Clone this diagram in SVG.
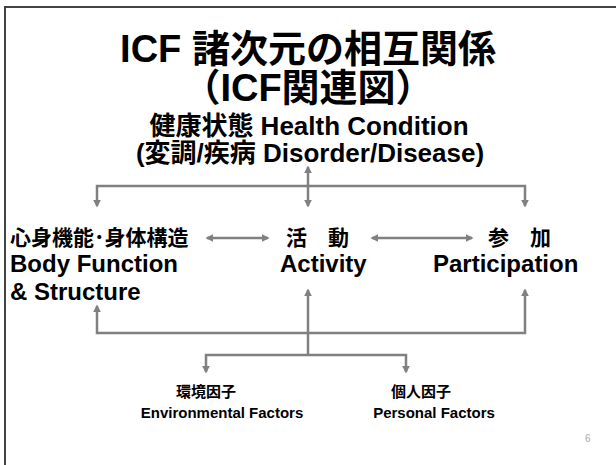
<svg xmlns="http://www.w3.org/2000/svg" width="616" height="465" viewBox="0 0 616 465">
<style>
.t{font-family:"Liberation Sans","Noto Sans CJK JP",sans-serif;font-weight:bold;fill:#000}
.c{stroke:#808080;stroke-width:2.5;fill:none;marker-start:url(#ah);marker-end:url(#ah)}
.c1{stroke:#808080;stroke-width:2.5;fill:none;marker-end:url(#ah)}
</style>
<defs>
<marker id="ah" viewBox="0 0 10 10" refX="8" refY="5" markerWidth="3.2" markerHeight="3.2" orient="auto-start-reverse" markerUnits="strokeWidth"><path d="M0,0L10,5L0,10z" fill="#808080"/></marker>
</defs>
<rect width="616" height="465" fill="#fff"/>
<path d="M5,465V7H616" stroke="#444" stroke-width="2" fill="none"/>
<g id="title">
<text class="t" x="308" y="62" font-size="38" text-anchor="middle">ICF 諸次元の相互関係</text>
<text class="t" x="308" y="101" font-size="38" text-anchor="middle">（ICF関連図）</text>
</g>
<g id="health">
<text class="t" x="309" y="135" font-size="26" text-anchor="middle">健康状態 Health Condition</text>
<text class="t" x="310" y="162" font-size="26" text-anchor="middle">(変調/疾病 Disorder/Disease)</text>
</g>
<g id="body">
<text class="t" x="10" y="245" font-size="21">心身機能･身体構造</text>
<text class="t" x="10" y="272" font-size="24">Body Function</text>
<text class="t" x="10" y="300" font-size="24">&amp; Structure</text>
</g>
<g id="activity">
<text class="t" x="286" y="245" font-size="21">活　動</text>
<text class="t" x="280" y="272" font-size="24">Activity</text>
</g>
<g id="participation">
<text class="t" x="488" y="245" font-size="21">参　加</text>
<text class="t" x="433" y="272" font-size="24">Participation</text>
</g>
<g id="environmental">
<text class="t" x="206" y="397" font-size="15" text-anchor="middle">環境因子</text>
<text class="t" x="222" y="418" font-size="15" text-anchor="middle">Environmental Factors</text>
</g>
<g id="personal">
<text class="t" x="421" y="397" font-size="15" text-anchor="middle">個人因子</text>
<text class="t" x="434" y="418" font-size="15" text-anchor="middle">Personal Factors</text>
</g>
<text x="585" y="442" font-size="10" fill="#aaa" font-family="Liberation Sans,sans-serif">6</text>
<g id="connectors">
<path class="c" d="M308,167V206"/>
<path class="c" d="M97,206V186H525V206"/>
<path class="c" d="M207,238H268"/>
<path class="c" d="M372,238H472"/>
<path class="c" d="M97,306V333H525V290"/>
<path class="c1" d="M308,355V290"/>
<path class="c" d="M206,372V355H406V372"/>
</g>
</svg>
